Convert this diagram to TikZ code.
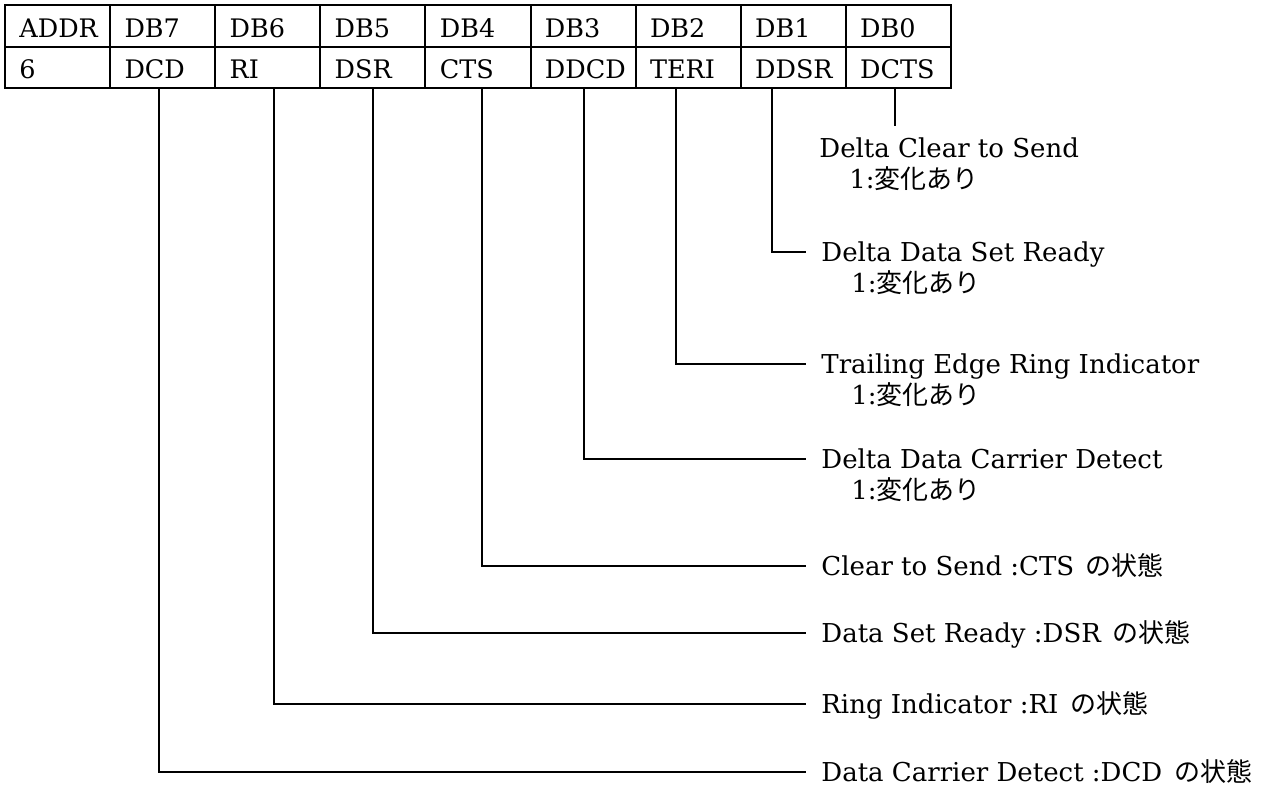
\documentclass[tikz,border=0pt]{standalone}
\usepackage{fontspec}
\setmainfont{DejaVu Serif}
\newfontfamily\jpfont{Noto Sans CJK JP}

\tikzset{
  tableline/.style={draw=black, line width=1pt},
  celltext/.style={anchor=base west, inner sep=0pt, font=\fontsize{12.75pt}{15.5pt}\selectfont},
  lbl/.style={anchor=west, inner xsep=7.5pt, inner ysep=0pt, text height=9.5pt, text depth=0.5pt, font=\fontsize{13pt}{15.5pt}\selectfont},
  sub/.style={anchor=base west, inner sep=0pt, font=\fontsize{13pt}{15.5pt}\selectfont},
  wire/.style={draw=black, line width=0.9pt},
}

\begin{document}
\begin{tikzpicture}[x=0.5pt, y=-0.5pt]
  \useasboundingbox (0,0) rectangle (1262,789);

% register table
  \draw[tableline] (5,5) rectangle (951,88);
  \draw[tableline] (5,47) -- (951,47);
  \draw[tableline] (110.1,5) -- (110.1,88);
  \draw[tableline] (215.2,5) -- (215.2,88);
  \draw[tableline] (320.3,5) -- (320.3,88);
  \draw[tableline] (425.4,5) -- (425.4,88);
  \draw[tableline] (530.5,5) -- (530.5,88);
  \draw[tableline] (635.6,5) -- (635.6,88);
  \draw[tableline] (740.7,5) -- (740.7,88);
  \draw[tableline] (845.8,5) -- (845.8,88);

  \node[celltext] (addr) at (19,37) {ADDR};
  \node[celltext] (db7) at (124.1,37) {DB7};
  \node[celltext] (db6) at (229.2,37) {DB6};
  \node[celltext] (db5) at (334.3,37) {DB5};
  \node[celltext] (db4) at (439.4,37) {DB4};
  \node[celltext] (db3) at (544.5,37) {DB3};
  \node[celltext] (db2) at (649.6,37) {DB2};
  \node[celltext] (db1) at (754.7,37) {DB1};
  \node[celltext] (db0) at (859.8,37) {DB0};

  \node[celltext] (num) at (19,78) {6};
  \node[celltext] (dcd) at (124.1,78) {DCD};
  \node[celltext] (ri) at (229.2,78) {RI};
  \node[celltext] (dsr) at (334.3,78) {DSR};
  \node[celltext] (cts) at (439.4,78) {CTS};
  \node[celltext] (ddcd) at (544.5,78) {DDCD};
  \node[celltext] (teri) at (649.6,78) {TERI};
  \node[celltext] (ddsr) at (754.7,78) {DDSR};
  \node[celltext] (dcts) at (859.8,78) {DCTS};

% taps under the bits
  \coordinate (t0) at (895,88);
  \coordinate (t1) at (772,88);
  \coordinate (t2) at (676,88);
  \coordinate (t3) at (584,88);
  \coordinate (t4) at (482,88);
  \coordinate (t5) at (373,88);
  \coordinate (t6) at (274,88);
  \coordinate (t7) at (159,88);
  \coordinate (e0) at (895,126);

% descriptions
  \node[lbl] (l0) at (804,148) {Delta Clear to Send};
  \node[sub] (s0) at ([xshift=22.5pt,yshift=-15.5pt]l0.base west) {1:{\jpfont 変化あり}};
  \node[lbl] (l1) at (806,252) {Delta Data Set Ready};
  \node[sub] (s1) at ([xshift=22.5pt,yshift=-15.5pt]l1.base west) {1:{\jpfont 変化あり}};
  \node[lbl] (l2) at (806,364) {Trailing Edge Ring Indicator};
  \node[sub] (s2) at ([xshift=22.5pt,yshift=-15.5pt]l2.base west) {1:{\jpfont 変化あり}};
  \node[lbl] (l3) at (806,459) {Delta Data Carrier Detect};
  \node[sub] (s3) at ([xshift=22.5pt,yshift=-15.5pt]l3.base west) {1:{\jpfont 変化あり}};
  \node[lbl] (l4) at (806,566) {Clear to Send :CTS\hspace{0.45em}{\jpfont の状態}};
  \node[lbl] (l5) at (806,633) {Data Set Ready :DSR\hspace{0.45em}{\jpfont の状態}};
  \node[lbl] (l6) at (806,704) {Ring Indicator :RI\hspace{0.45em}{\jpfont の状態}};
  \node[lbl] (l7) at (806,772) {Data Carrier Detect :DCD\hspace{0.45em}{\jpfont の状態}};

  \draw[wire] (t0) -- (e0);
  \draw[wire] (t1) |- (l1.west);
  \draw[wire] (t2) |- (l2.west);
  \draw[wire] (t3) |- (l3.west);
  \draw[wire] (t4) |- (l4.west);
  \draw[wire] (t5) |- (l5.west);
  \draw[wire] (t6) |- (l6.west);
  \draw[wire] (t7) |- (l7.west);
\end{tikzpicture}
\end{document}
